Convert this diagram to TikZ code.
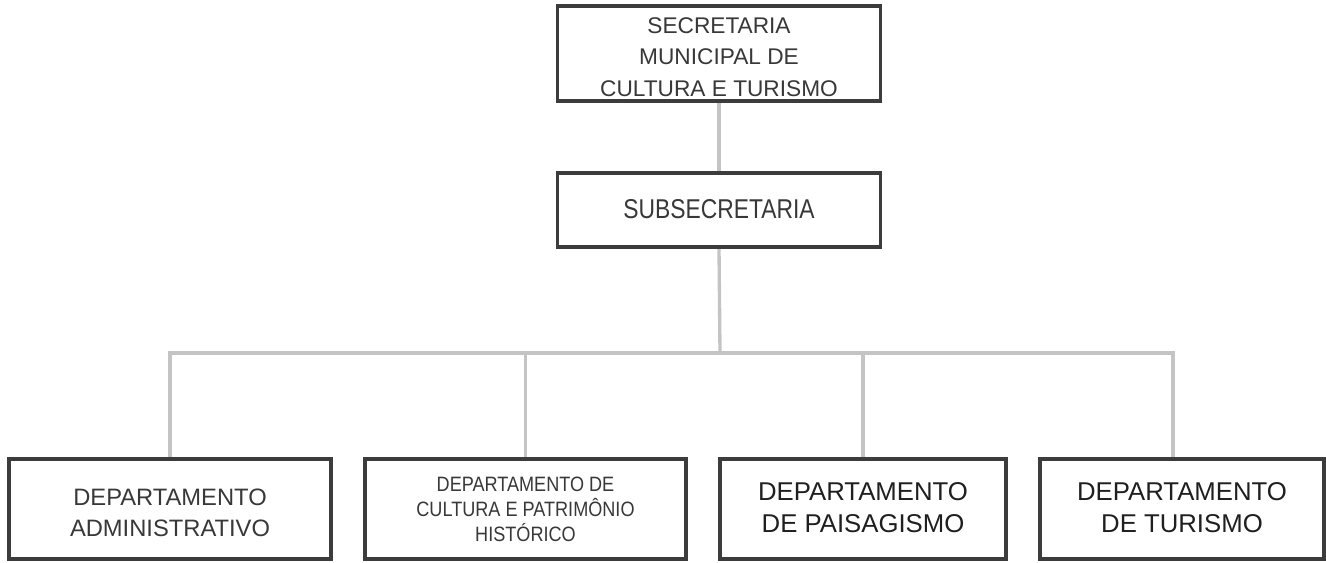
\documentclass[tikz,border=0pt]{standalone}
\usepackage{fontspec}
\setmainfont{Liberation Sans}
\newfontfamily\condA[FakeStretch=0.84]{Liberation Sans}
\newfontfamily\condB[FakeStretch=0.87]{Liberation Sans}
\usetikzlibrary{backgrounds}
\definecolor{boxline}{HTML}{3C3C3C}
\definecolor{conncol}{HTML}{C4C4C4}
\definecolor{txt}{HTML}{383838}
\tikzset{
  orgbox/.style={draw=boxline, line width=2.6pt, fill=white, rectangle, inner sep=0pt, align=center, text=txt},
  conn/.style={draw=conncol, line width=2.5pt, line join=miter}
}
\newcommand{\lowered}[2]{\raisebox{#1}[\height][\depth]{\begin{tabular}{@{}c@{}}#2\end{tabular}}}
\begin{document}
\begin{tikzpicture}[x=0.75pt,y=-0.75pt]
\useasboundingbox (0,0) rectangle (1326,563);
\node[orgbox, minimum width=322.5pt*0.75, minimum height=95pt*0.75, font=\fontsize{17pt}{23.6pt}\selectfont] (sec) at (719,53.5)
  {\lowered{-3.7pt}{SECRETARIA\\MUNICIPAL DE\\CULTURA E TURISMO}};
\node[orgbox, minimum width=322.5pt*0.75, minimum height=74pt*0.75, font=\condA\fontsize{20.4pt}{24pt}\selectfont] (sub) at (719,210)
  {\lowered{-1.3pt}{SUBSECRETARIA}};
\node[orgbox, minimum width=322pt*0.75, minimum height=100pt*0.75, font=\fontsize{17.8pt}{23.3pt}\selectfont] (d1) at (170,509)
  {\lowered{-4.4pt}{DEPARTAMENTO\\ADMINISTRATIVO}};
\node[orgbox, minimum width=321pt*0.75, minimum height=100pt*0.75, font=\condB\fontsize{15.6pt}{18.8pt}\selectfont] (d2) at (525.5,509)
  {DEPARTAMENTO DE\\CULTURA E PATRIMÔNIO\\HISTÓRICO};
\node[orgbox, minimum width=286pt*0.75, minimum height=100pt*0.75, font=\fontsize{19.3pt}{24pt}\selectfont, text=black!88] (d3) at (863,509)
  {\lowered{-1pt}{DEPARTAMENTO\\DE PAISAGISMO}};
\node[orgbox, minimum width=284pt*0.75, minimum height=100pt*0.75, font=\fontsize{19.3pt}{24pt}\selectfont, text=black!88] (d4) at (1182,509)
  {\lowered{-1pt}{DEPARTAMENTO\\DE TURISMO}};
\coordinate (j) at (720,353);
\coordinate (t4) at (1173,459);
\begin{scope}[on background layer]
\draw[conn] (sec.south) -- (sub.north);
\draw[conn] (sub.south) -- (j);
\draw[conn] (j) -| (d1.north);
\draw[conn] (j) -| (d2.north);
\draw[conn] (j) -| (d3.north);
\draw[conn] (j) -| (t4);
\end{scope}
\end{tikzpicture}
\end{document}
